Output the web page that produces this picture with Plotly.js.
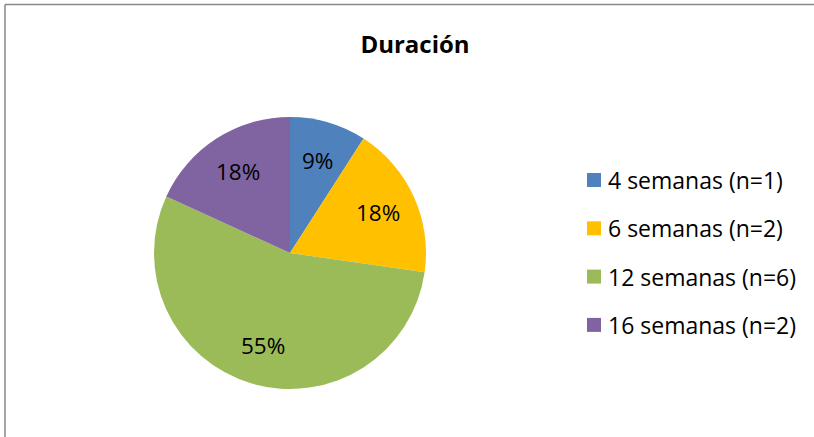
<!DOCTYPE html>
<html>
<head>
<meta charset="utf-8">
<script src="https://cdn.plot.ly/plotly-3.0.1.min.js"></script>
<style>
html,body{margin:0;padding:0;background:#fff;}
#chart{width:814px;height:437px;}
</style>
</head>
<body>
<div id="chart"></div>
<script>
// Data
const categories = ["4 semanas (n=1)", "6 semanas (n=2)", "12 semanas (n=6)", "16 semanas (n=2)"];
const counts = [1, 2, 6, 2];
const colors = ["#4F81BD", "#FFC000", "#9BBB59", "#8064A2"];
const chartTitle = "Duración";

const W = 814, H = 437;
const FONT = "'Open Sans', sans-serif";
const px = x => x / W;
const py = y => 1 - y / H;

// Pie geometry (pixels)
const cx = 290, cy = 253, R = 136;

const trace = {
  type: "pie",
  labels: categories,
  values: counts,
  sort: false,
  direction: "clockwise",
  rotation: 0,
  marker: {colors: colors, line: {width: 0}},
  textinfo: "none",
  showlegend: false,
  hoverinfo: "label+percent",
  domain: {x: [px(cx - R), px(cx + R)], y: [py(cy + R), py(cy - R)]}
};

const shapes = [
  {type: "line", xref: "paper", yref: "paper", x0: px(5), x1: 1.01, y0: py(4.5), y1: py(4.5), line: {color: "#878787", width: 1.5}},
  {type: "line", xref: "paper", yref: "paper", x0: px(5), x1: px(5), y0: py(4.5), y1: -0.01, line: {color: "#878787", width: 1.5}}
];
const annotations = [];

// Percentage labels placed along each slice's mid-angle
const total = counts.reduce((a, b) => a + b, 0);
let cum = 0;
counts.forEach((v, i) => {
  const theta = 2 * Math.PI * (cum + v / 2) / total;
  cum += v;
  const r = 0.71 * R;
  const lx = cx + r * Math.sin(theta), ly = cy - r * Math.cos(theta);
  annotations.push({xref: "paper", yref: "paper", x: px(lx), y: py(ly),
    xanchor: "center", yanchor: "middle", showarrow: false,
    text: Math.round(100 * v / total) + "%",
    font: {family: FONT, size: 22.5, color: "#000"}});
});

// Legend drawn as shapes + annotations built from the data arrays
const legTop = 180, legStep = 48.3, sq = 14, legX = 587;
categories.forEach((c, i) => {
  const yc = legTop + i * legStep;
  shapes.push({type: "rect", xref: "paper", yref: "paper",
    x0: px(legX), x1: px(legX + sq), y0: py(yc + sq / 2), y1: py(yc - sq / 2),
    fillcolor: colors[i], line: {width: 0}});
  annotations.push({xref: "paper", yref: "paper", x: px(legX + 19), y: py(yc),
    xanchor: "left", yanchor: "middle", showarrow: false, text: c,
    font: {family: FONT, size: 23, color: "#000"}});
});

const layout = {
  width: W, height: H,
  margin: {l: 0, r: 0, t: 0, b: 0},
  paper_bgcolor: "#fff",
  title: {text: "<b>" + chartTitle + "</b>", x: px(415), xanchor: "center", y: py(45), yanchor: "middle",
    font: {family: FONT, size: 24, color: "#000"}},
  shapes: shapes,
  annotations: annotations,
  showlegend: false
};

Plotly.newPlot("chart", [trace], layout, {displayModeBar: false, staticPlot: true});
</script>
</body>
</html>
